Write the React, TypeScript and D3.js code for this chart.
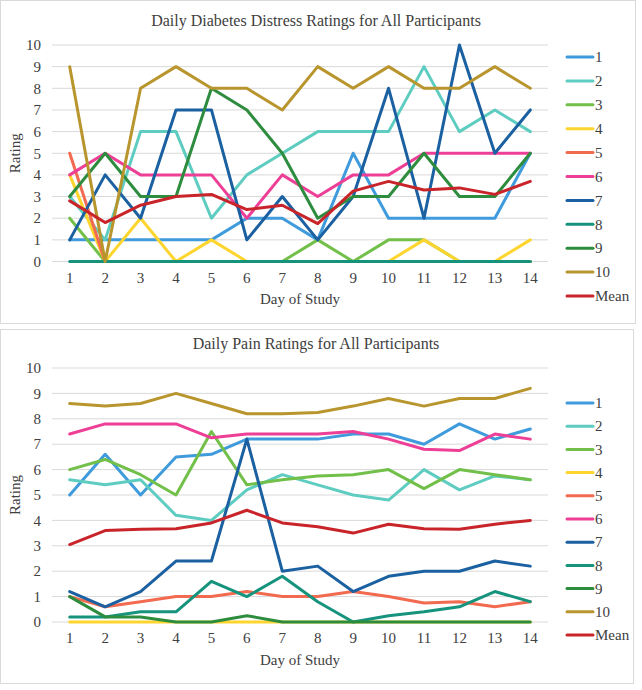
import React from "react";
import * as d3 from "d3";

const days = [1, 2, 3, 4, 5, 6, 7, 8, 9, 10, 11, 12, 13, 14];
const seriesNames = ["1", "2", "3", "4", "5", "6", "7", "8", "9", "10", "Mean"];
const seriesColors = ["#3F9BDB", "#5ECCC0", "#72C04A", "#FDD52E", "#F26A50", "#EE3F97", "#1B60A0", "#16937D", "#2E8C3E", "#B9952E", "#C8242A"];
const yTicks = [0, 1, 2, 3, 4, 5, 6, 7, 8, 9, 10];

// Daily Diabetes Distress Ratings
const distress1 = [1, 1, 1, 1, 1, 2, 2, 1, 5, 2, 2, 2, 2, 5];
const distress2 = [3, 1, 6, 6, 2, 4, 5, 6, 6, 6, 9, 6, 7, 6];
const distress3 = [2, 0, 0, 0, 0, 0, 0, 1, 0, 1, 1, 0, 0, 0];
const distress4 = [4, 0, 2, 0, 1, 0, 0, 0, 0, 0, 1, 0, 0, 1];
const distress5 = [5, 0, 0, 0, 0, 0, 0, 0, 0, 0, 0, 0, 0, 0];
const distress6 = [4, 5, 4, 4, 4, 2, 4, 3, 4, 4, 5, 5, 5, 5];
const distress7 = [1, 4, 2, 7, 7, 1, 3, 1, 3, 8, 2, 10, 5, 7];
const distress8 = [0, 0, 0, 0, 0, 0, 0, 0, 0, 0, 0, 0, 0, 0];
const distress9 = [3, 5, 3, 3, 8, 7, 5, 2, 3, 3, 5, 3, 3, 5];
const distress10 = [9, 0, 8, 9, 8, 8, 7, 9, 8, 9, 8, 8, 9, 8];
const distressMean = [2.8, 1.8, 2.6, 3.0, 3.1, 2.4, 2.6, 1.75, 3.25, 3.7, 3.3, 3.4, 3.1, 3.7];

// Daily Pain Ratings
const pain1 = [5.0, 6.6, 5.0, 6.5, 6.6, 7.2, 7.2, 7.2, 7.4, 7.4, 7.0, 7.8, 7.2, 7.6];
const pain2 = [5.6, 5.4, 5.6, 4.2, 4.0, 5.2, 5.8, 5.4, 5.0, 4.8, 6.0, 5.2, 5.75, 5.6];
const pain3 = [6.0, 6.4, 5.8, 5.0, 7.5, 5.4, 5.6, 5.75, 5.8, 6.0, 5.25, 6.0, 5.8, 5.6];
const pain4 = [0, 0, 0, 0, 0, 0, 0, 0, 0, 0, 0, 0, 0, 0];
const pain5 = [1.0, 0.6, 0.8, 1.0, 1.0, 1.2, 1.0, 1.0, 1.2, 1.0, 0.75, 0.8, 0.6, 0.8];
const pain6 = [7.4, 7.8, 7.8, 7.8, 7.25, 7.4, 7.4, 7.4, 7.5, 7.2, 6.8, 6.75, 7.4, 7.2];
const pain7 = [1.2, 0.6, 1.2, 2.4, 2.4, 7.2, 2.0, 2.2, 1.2, 1.8, 2.0, 2.0, 2.4, 2.2];
const pain8 = [0.2, 0.2, 0.4, 0.4, 1.6, 1.0, 1.8, 0.8, 0.0, 0.25, 0.4, 0.6, 1.2, 0.8];
const pain9 = [1.0, 0.2, 0.2, 0, 0, 0.25, 0, 0, 0, 0, 0, 0, 0, 0];
const pain10 = [8.6, 8.5, 8.6, 9.0, 8.6, 8.2, 8.2, 8.25, 8.5, 8.8, 8.5, 8.8, 8.8, 9.2];
const painMean = [3.05, 3.6, 3.65, 3.67, 3.9, 4.4, 3.9, 3.75, 3.5, 3.85, 3.67, 3.65, 3.85, 4.0];

const distressSeries = [distress1, distress2, distress3, distress4, distress5, distress6, distress7, distress8, distress9, distress10, distressMean];
const painSeries = [pain1, pain2, pain3, pain4, pain5, pain6, pain7, pain8, pain9, pain10, painMean];

const FONT = "'Liberation Serif', 'Times New Roman', serif";

type ChartProps = {
  title: string;
  series: number[][];
  frame: [number, number, number, number];
  titleY: number;
  plotTop: number;
  plotBottom: number;
  xLabelY: number;
  xTitleY: number;
  legendTop: number;
  legendStep: number;
};

function Chart({ title, series, frame, titleY, plotTop, plotBottom, xLabelY, xTitleY, legendTop, legendStep }: ChartProps) {
  const left = 52;
  const right = 548;
  const x = d3.scalePoint<number>().domain(days).range([left, right]).padding(0.5);
  const y = d3.scaleLinear().domain([0, 10]).range([plotBottom, plotTop]);
  const line = d3
    .line<number>()
    .x((_, i) => x(days[i]) as number)
    .y((v) => y(v));
  const [fx, fy, fw, fh] = frame;
  return (
    <g>
      <rect x={fx} y={fy} width={fw} height={fh} fill="#fff" stroke="#D9D9D9" strokeWidth={1} />
      <text x={316} y={titleY} textAnchor="middle" fontFamily={FONT} fontSize={16} fill="#404040">
        {title}
      </text>
      {yTicks.map((t) => (
        <g key={t}>
          <line x1={left} x2={right} y1={y(t)} y2={y(t)} stroke="#D9D9D9" strokeWidth={1} />
          <text x={41} y={y(t)} dy="0.35em" textAnchor="end" fontFamily={FONT} fontSize={15} fill="#404040">
            {t}
          </text>
        </g>
      ))}
      {days.map((d) => (
        <text key={d} x={x(d)} y={xLabelY} textAnchor="middle" fontFamily={FONT} fontSize={15} fill="#404040">
          {d}
        </text>
      ))}
      <text x={300} y={xTitleY} textAnchor="middle" fontFamily={FONT} fontSize={15} fill="#404040">
        Day of Study
      </text>
      <text
        transform={`translate(20,${(plotTop + plotBottom) / 2}) rotate(-90)`}
        textAnchor="middle"
        fontFamily={FONT}
        fontSize={15}
        fill="#404040"
      >
        Rating
      </text>
      {series.map((s, i) => (
        <path
          key={i}
          d={line(s) || ""}
          fill="none"
          stroke={seriesColors[i]}
          strokeWidth={3}
          strokeLinejoin="round"
          strokeLinecap="round"
        />
      ))}
      {seriesNames.map((n, i) => {
        const ly = legendTop + i * legendStep;
        return (
          <g key={n}>
            <line x1={567} x2={593} y1={ly} y2={ly} stroke={seriesColors[i]} strokeWidth={3} strokeLinecap="round" />
            <text x={595} y={ly} dy="0.35em" fontFamily={FONT} fontSize={15} fill="#404040">
              {n}
            </text>
          </g>
        );
      })}
    </g>
  );
}

export default function App() {
  return (
    <svg
      width={642}
      height={690}
      style={{ position: "absolute", left: 0, top: 0, display: "block", background: "#fff" }}
    >
      <Chart
        title="Daily Diabetes Distress Ratings for All Participants"
        series={distressSeries}
        frame={[0.5, 0.5, 635, 323]}
        titleY={26}
        plotTop={45}
        plotBottom={261.5}
        xLabelY={283}
        xTitleY={304}
        legendTop={57}
        legendStep={23.9}
      />
      <Chart
        title="Daily Pain Ratings for All Participants"
        series={painSeries}
        frame={[0.5, 329.5, 633, 354]}
        titleY={349}
        plotTop={368}
        plotBottom={622}
        xLabelY={643}
        xTitleY={665}
        legendTop={403}
        legendStep={23.2}
      />
    </svg>
  );
}
